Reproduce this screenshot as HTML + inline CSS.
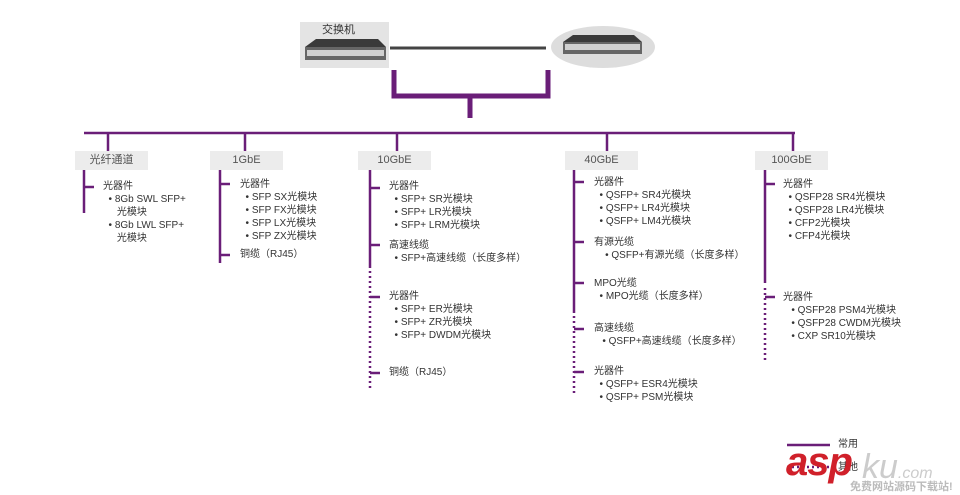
<!DOCTYPE html>
<html><head><meta charset="utf-8"><style>
body{margin:0;width:960px;height:495px;background:#fff;position:relative;overflow:hidden;font-family:"Liberation Sans","Noto Sans CJK SC",sans-serif;color:#333}
.t{position:absolute;font-size:10px;line-height:13px;white-space:nowrap}
.box{position:absolute;background:#ececec;font-size:11px;color:#555;text-align:center;line-height:19px;height:19px;width:73px}
</style></head><body>
<svg width="960" height="495" style="position:absolute;left:0;top:0">
<rect x="300" y="22" width="89" height="46" fill="#e4e4e4"/>
<g>
<polygon points="305,47 316,39 378,39 386,47" fill="#3a3a3a"/><rect x="305" y="47" width="81" height="13" fill="#666"/>
<rect x="307" y="50" width="77" height="6" fill="#d0d0d0"/>
</g>
<line x1="390" y1="48" x2="546" y2="48" stroke="#444" stroke-width="3"/>
<ellipse cx="603" cy="47" rx="52" ry="21" fill="#ddd"/>
<polygon points="563,42 573,35 634,35 642,42" fill="#3a3a3a"/><rect x="563" y="42" width="79" height="12" fill="#666"/>
<rect x="565" y="44" width="75" height="6" fill="#d0d0d0"/>
<path d="M394,70 V96 H470 V118 M470,96 H548 V70" fill="none" stroke="#6a1e78" stroke-width="5"/>
<g stroke="#6a1e78" stroke-width="2.5" fill="none">
<line x1="84" y1="133" x2="795" y2="133"/>
<line x1="108" y1="133" x2="108" y2="151"/><line x1="245" y1="133" x2="245" y2="151"/>
<line x1="397" y1="133" x2="397" y2="151"/><line x1="607" y1="133" x2="607" y2="151"/>
<line x1="793" y1="133" x2="793" y2="151"/>
<line x1="84" y1="170" x2="84" y2="213"/><line x1="84" y1="187" x2="94" y2="187"/>
<line x1="220" y1="170" x2="220" y2="263"/><line x1="220" y1="184" x2="230" y2="184"/><line x1="220" y1="255" x2="230" y2="255"/>
<line x1="370" y1="170" x2="370" y2="268"/><line x1="370" y1="188" x2="380" y2="188"/><line x1="370" y1="245" x2="380" y2="245"/>
<line x1="370" y1="297" x2="380" y2="297"/><line x1="370" y1="373" x2="380" y2="373"/>
<line x1="574" y1="170" x2="574" y2="313"/><line x1="574" y1="182" x2="584" y2="182"/><line x1="574" y1="242" x2="584" y2="242"/>
<line x1="574" y1="283" x2="584" y2="283"/><line x1="574" y1="329" x2="584" y2="329"/><line x1="574" y1="372" x2="584" y2="372"/>
<line x1="765" y1="170" x2="765" y2="283"/><line x1="765" y1="184" x2="775" y2="184"/><line x1="765" y1="297" x2="775" y2="297"/>
<line x1="787" y1="445" x2="830" y2="445"/>
</g>
<g stroke="#6a1e78" stroke-width="2.5" stroke-dasharray="2,3" fill="none">
<line x1="370" y1="271" x2="370" y2="388"/><line x1="574" y1="316" x2="574" y2="393"/>
<line x1="765" y1="288" x2="765" y2="362"/><line x1="787" y1="467" x2="830" y2="467"/>
</g>
</svg>
<div class="t" style="left:322px;top:24px;font-size:11px">交换机</div>
<div class="box" style="left:75px;top:151px">光纤通道</div>
<div class="box" style="left:210px;top:151px">1GbE</div>
<div class="box" style="left:358px;top:151px">10GbE</div>
<div class="box" style="left:565px;top:151px">40GbE</div>
<div class="box" style="left:755px;top:151px">100GbE</div>
<div class="t" style="left:103px;top:180px">光器件<br>&nbsp;&nbsp;• 8Gb SWL SFP+<br>&nbsp;&nbsp;&nbsp;&nbsp;&nbsp;光模块<br>&nbsp;&nbsp;• 8Gb LWL SFP+<br>&nbsp;&nbsp;&nbsp;&nbsp;&nbsp;光模块</div>
<div class="t" style="left:240px;top:178px">光器件<br>&nbsp;&nbsp;• SFP SX光模块<br>&nbsp;&nbsp;• SFP FX光模块<br>&nbsp;&nbsp;• SFP LX光模块<br>&nbsp;&nbsp;• SFP ZX光模块</div>
<div class="t" style="left:240px;top:248px">铜缆（RJ45）</div>
<div class="t" style="left:389px;top:180px">光器件<br>&nbsp;&nbsp;• SFP+ SR光模块<br>&nbsp;&nbsp;• SFP+ LR光模块<br>&nbsp;&nbsp;• SFP+ LRM光模块</div>
<div class="t" style="left:389px;top:239px">高速线缆<br>&nbsp;&nbsp;• SFP+高速线缆（长度多样）</div>
<div class="t" style="left:389px;top:290px">光器件<br>&nbsp;&nbsp;• SFP+ ER光模块<br>&nbsp;&nbsp;• SFP+ ZR光模块<br>&nbsp;&nbsp;• SFP+ DWDM光模块</div>
<div class="t" style="left:389px;top:366px">铜缆（RJ45）</div>
<div class="t" style="left:594px;top:176px">光器件<br>&nbsp;&nbsp;• QSFP+ SR4光模块<br>&nbsp;&nbsp;• QSFP+ LR4光模块<br>&nbsp;&nbsp;• QSFP+ LM4光模块</div>
<div class="t" style="left:594px;top:236px">有源光缆<br>&nbsp;&nbsp;&nbsp;&nbsp;• QSFP+有源光缆（长度多样）</div>
<div class="t" style="left:594px;top:277px">MPO光缆<br>&nbsp;&nbsp;• MPO光缆（长度多样）</div>
<div class="t" style="left:594px;top:322px">高速线缆<br>&nbsp;&nbsp;&nbsp;• QSFP+高速线缆（长度多样）</div>
<div class="t" style="left:594px;top:365px">光器件<br>&nbsp;&nbsp;• QSFP+ ESR4光模块<br>&nbsp;&nbsp;• QSFP+ PSM光模块</div>
<div class="t" style="left:783px;top:178px">光器件<br>&nbsp;&nbsp;• QSFP28 SR4光模块<br>&nbsp;&nbsp;• QSFP28 LR4光模块<br>&nbsp;&nbsp;• CFP2光模块<br>&nbsp;&nbsp;• CFP4光模块</div>
<div class="t" style="left:783px;top:291px">光器件<br>&nbsp;&nbsp;&nbsp;• QSFP28 PSM4光模块<br>&nbsp;&nbsp;&nbsp;• QSFP28 CWDM光模块<br>&nbsp;&nbsp;&nbsp;• CXP SR10光模块</div>
<div class="t" style="left:838px;top:438px">常用</div>
<div class="t" style="left:838px;top:461px">其他</div>
<div style="position:absolute;left:786px;top:440px;font:italic bold 40px 'Liberation Sans',sans-serif;color:#d0202a;letter-spacing:-1px">asp</div>
<div style="position:absolute;left:862px;top:448px;font:italic 34px 'Liberation Sans',sans-serif;color:#ccc">ku<span style="font-size:16px">.com</span></div>
<div style="position:absolute;left:850px;top:478px;font:bold 11px 'Liberation Sans','Noto Sans CJK SC',sans-serif;color:#bbb">免费网站源码下载站!</div>
</body></html>
